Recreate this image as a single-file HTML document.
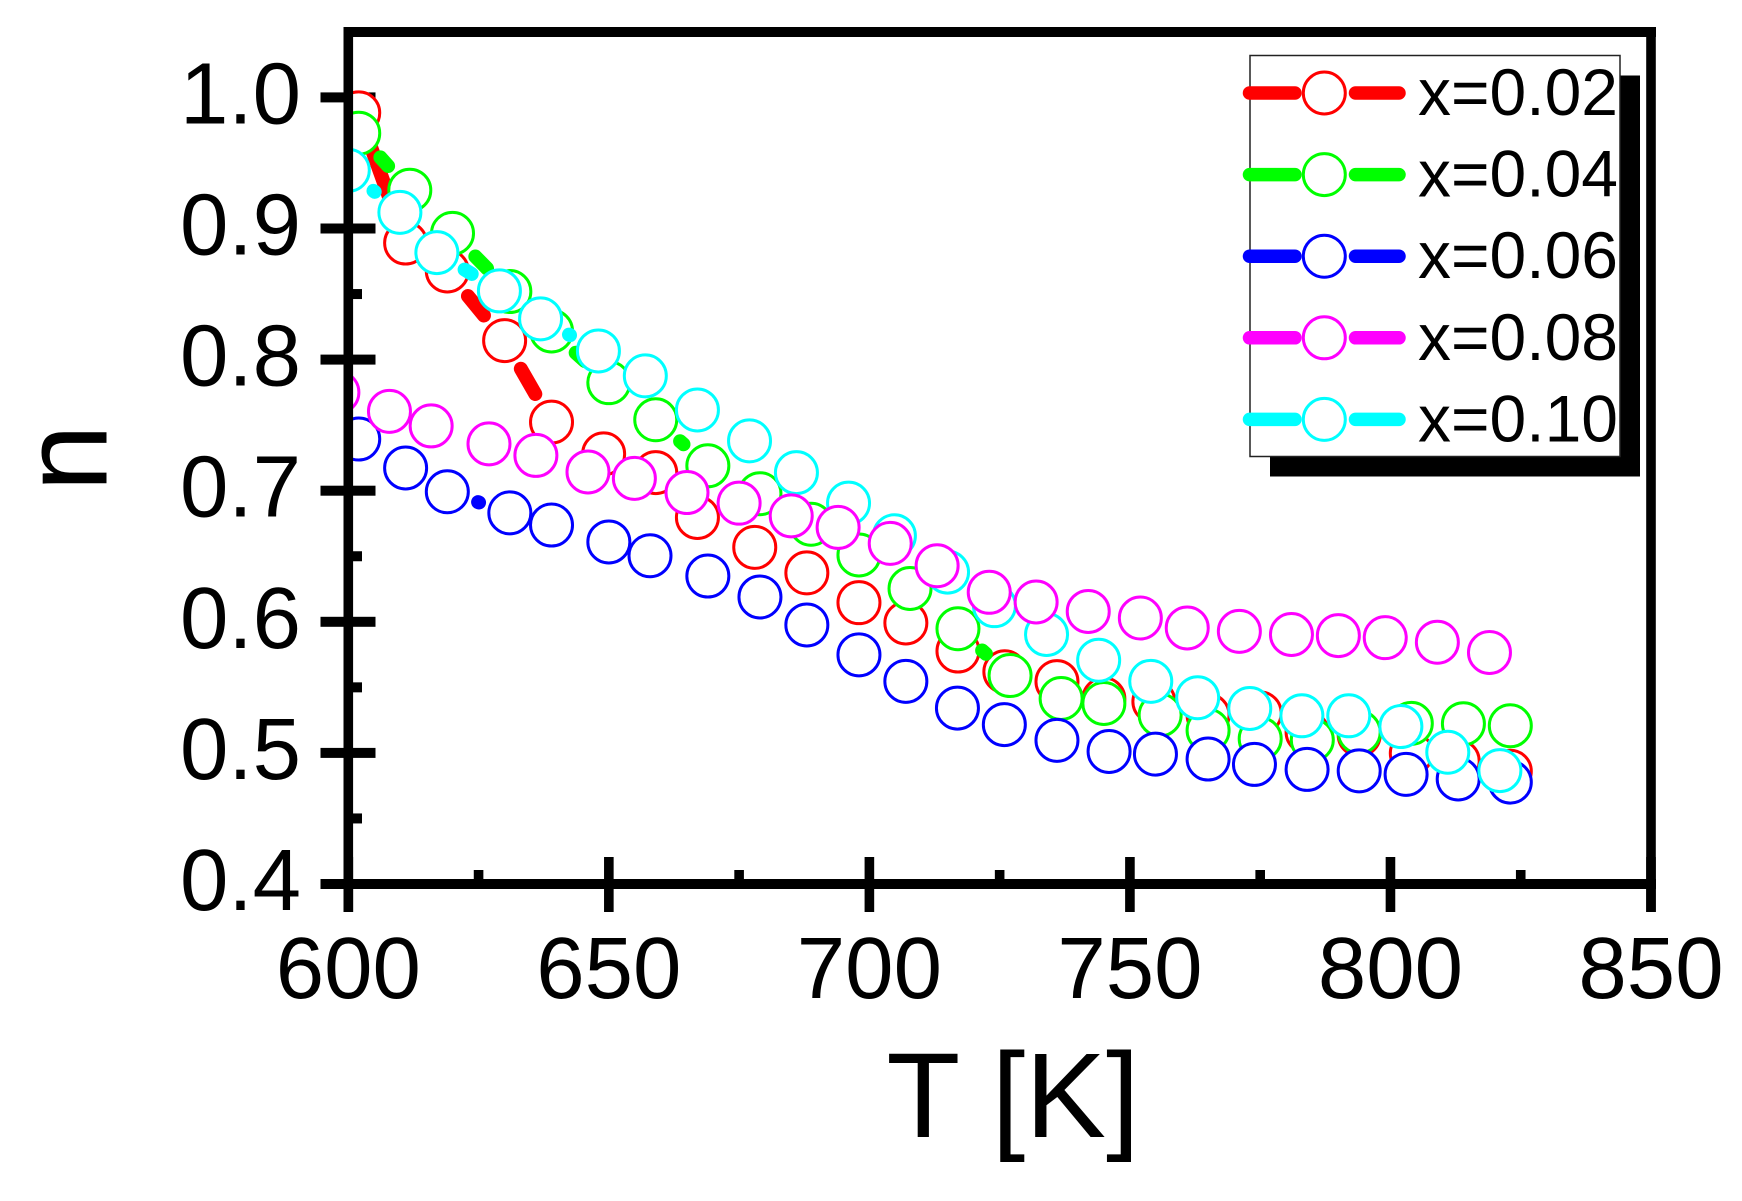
<!DOCTYPE html>
<html lang="en">
<head>
<meta charset="utf-8">
<title>n versus T chart</title>
<style>
  html, body { margin: 0; padding: 0; background: #fff; }
  #chart { display: block; width: 1742px; height: 1201px; }
  text { font-family: "Liberation Sans", Arial, sans-serif; fill: #000; }
</style>
</head>
<body>
<svg id="chart" xmlns="http://www.w3.org/2000/svg" width="1742" height="1201" viewBox="0 0 1742 1201">
  <defs>
    <clipPath id="plot-clip"><rect x="353" y="37" width="1293" height="842"></rect></clipPath>
  </defs>
  <rect x="0" y="0" width="1742" height="1201" fill="#fff"></rect>
  <g id="ticks"></g>
  <g id="tick-labels"></g>
  <g id="series" clip-path="url(#plot-clip)"></g>
  <g fill="#000">
    <rect x="343.5" y="27" width="1312.5" height="10"></rect>
    <rect x="1646.2" y="27" width="9.6" height="885"></rect>
    <rect x="343.5" y="27" width="9.6" height="885"></rect>
    <rect x="320.5" y="879" width="1335.5" height="10"></rect>
  </g>
  <text x="1013" y="1137" font-size="121" text-anchor="middle">T [K]</text>
  <text transform="translate(106.5,458) rotate(-90)" font-size="121" text-anchor="middle">n</text>
  <g id="legend">
    <rect x="1270" y="75.5" width="370" height="401" fill="#000"></rect>
    <rect x="1250" y="55.5" width="370" height="401" fill="#fff" stroke="#222" stroke-width="1.5"></rect>
  </g>
</svg>
<script>
// Axis ranges
const xDomain = [600, 850];
const yDomain = [0.4, 1.0];

// Tick values and labels
const xMajorTicks = [600, 650, 700, 750, 800, 850];
const xMajorLabels = ['600', '650', '700', '750', '800', '850'];
const xMinorTicks = [625, 675, 725, 775, 825];
const yMajorTicks = [0.4, 0.5, 0.6, 0.7, 0.8, 0.9, 1.0];
const yMajorLabels = ['0.4', '0.5', '0.6', '0.7', '0.8', '0.9', '1.0'];
const yMinorTicks = [0.45, 0.55, 0.65, 0.75, 0.85, 0.95];

// Series values
const seriesNames = ['x=0.02', 'x=0.04', 'x=0.06', 'x=0.08', 'x=0.10'];
const seriesColors = ['#ff0000', '#00ff00', '#0000ff', '#ff00ff', '#00ffff'];

const tempA = [602, 611, 619, 630, 639, 649, 659, 667, 678, 688, 698, 707, 717, 726, 736, 745, 754.6, 765, 775, 784, 794, 804, 813, 823];
const nA = [0.9882, 0.8889, 0.8676, 0.8145, 0.7523, 0.7281, 0.7138, 0.6796, 0.6568, 0.6373, 0.6146, 0.5991, 0.5777, 0.5619, 0.5544, 0.5412, 0.5391, 0.5289, 0.5304, 0.5158, 0.5137, 0.4997, 0.4938, 0.486];

const tempB = [602, 611.8, 620, 631, 639, 650, 659, 669, 679, 688.8, 698, 707.8, 717, 727, 736.8, 745, 755.8, 765, 775, 785, 794, 804, 814, 823];
const nB = [0.9727, 0.9292, 0.8963, 0.8519, 0.8218, 0.7824, 0.7541, 0.719, 0.6977, 0.6744, 0.651, 0.6254, 0.5947, 0.559, 0.5415, 0.5377, 0.5289, 0.5172, 0.5108, 0.5099, 0.5158, 0.5225, 0.5222, 0.5207];

const tempC = [602, 611, 619, 631, 639, 650, 657.9, 669, 679, 688, 698, 707, 716.9, 725.9, 736, 746, 754.9, 765, 773.9, 784, 794, 803, 813, 823];
const nC = [0.7394, 0.7173, 0.6992, 0.6831, 0.6738, 0.6609, 0.6504, 0.6349, 0.6189, 0.5976, 0.5748, 0.5546, 0.5342, 0.5216, 0.5096, 0.5011, 0.4991, 0.4953, 0.4912, 0.4874, 0.4863, 0.4836, 0.4801, 0.4777];

const tempD = [598, 607.9, 615.9, 627, 636, 646, 654.9, 665, 675, 685, 694, 704, 713, 723, 732, 742, 752, 761, 771, 781, 790, 799, 809, 819];
const nD = [0.775, 0.7605, 0.7494, 0.7357, 0.7269, 0.7143, 0.7094, 0.6986, 0.6905, 0.6808, 0.672, 0.6598, 0.6428, 0.6225, 0.6151, 0.6079, 0.6029, 0.5953, 0.5927, 0.5903, 0.5895, 0.5879, 0.5844, 0.5766];

const tempE = [600, 609.9, 617, 629, 636.9, 648, 657, 667, 677, 686, 696, 704.8, 715, 724, 734, 744, 754, 763, 773, 783, 792, 802, 811, 821];
const nE = [0.9444, 0.9123, 0.8816, 0.8524, 0.8311, 0.8066, 0.7876, 0.7616, 0.738, 0.7138, 0.6905, 0.6656, 0.6379, 0.6123, 0.5903, 0.5707, 0.5546, 0.5421, 0.5339, 0.5283, 0.5283, 0.5201, 0.5005, 0.4865];

const SVG_NS = 'http://www.w3.org/2000/svg';

function xScale(t) {
  return 348.3 + (t - xDomain[0]) * (1302.7 / (xDomain[1] - xDomain[0]));
}
function yScale(n) {
  return 884 - (n - yDomain[0]) * (786.6 / (yDomain[1] - yDomain[0]));
}
function make(tag, attrs, parent) {
  const el = document.createElementNS(SVG_NS, tag);
  for (const key in attrs) el.setAttribute(key, attrs[key]);
  parent.appendChild(el);
  return el;
}

const ticksLayer = document.getElementById('ticks');
const labelsLayer = document.getElementById('tick-labels');
const seriesLayer = document.getElementById('series');
const legendLayer = document.getElementById('legend');

xMajorTicks.forEach(function (v, i) {
  const tick = make('rect', { x: xScale(v) - 4.8, y: 857, width: 9.6, height: 55, fill: '#000' }, ticksLayer);
  
  
  const label = make('text', { x: xScale(v), y: 998, 'font-size': 87, 'text-anchor': 'middle' }, labelsLayer);
  
  
  label.textContent = xMajorLabels[i];
});
xMinorTicks.forEach(function (v) {
  const tick = make('rect', { x: xScale(v) - 4.8, y: 870, width: 9.6, height: 15, fill: '#000' }, ticksLayer);
  
  
});
yMajorTicks.forEach(function (v, i) {
  const tick = make('rect', { x: 320.5, y: yScale(v) - 5, width: 55, height: 10, fill: '#000' }, ticksLayer);
  
  
  const label = make('text', { x: 301, y: yScale(v) + 26, 'font-size': 87, 'text-anchor': 'end' }, labelsLayer);
  
  
  label.textContent = yMajorLabels[i];
});
yMinorTicks.forEach(function (v) {
  const tick = make('rect', { x: 348, y: yScale(v) - 5, width: 14, height: 10, fill: '#000' }, ticksLayer);
  
  
});

const lineWidth = 14;
const lineGap = 32.5;
const markerRadius = 21;
const markerStroke = 3;

function drawSeries(temps, values, color, key) {
  const group = make('g', {}, seriesLayer);
  
  
  for (let i = 0; i + 1 < temps.length; i++) {
    const x1 = xScale(temps[i]);
    const y1 = yScale(values[i]);
    const x2 = xScale(temps[i + 1]);
    const y2 = yScale(values[i + 1]);
    const len = Math.hypot(x2 - x1, y2 - y1);
    if (len <= 2 * lineGap) continue;
    const ux = (x2 - x1) / len;
    const uy = (y2 - y1) / len;
    const seg = make('line', {
      x1: x1 + ux * lineGap, y1: y1 + uy * lineGap,
      x2: x2 - ux * lineGap, y2: y2 - uy * lineGap,
      stroke: color, 'stroke-width': lineWidth, 'stroke-linecap': 'round'
    }, group);
    
    
  }
  temps.forEach(function (t, i) {
    const dot = make('circle', {
      cx: xScale(t), cy: yScale(values[i]), r: markerRadius,
      fill: '#fff', stroke: color, 'stroke-width': markerStroke
    }, group);
    
    
  });
}

// Paint order follows the overlaps in the figure: red, green, blue, cyan, magenta.
drawSeries(tempA, nA, seriesColors[0], 'x-0-02');
drawSeries(tempB, nB, seriesColors[1], 'x-0-04');
drawSeries(tempC, nC, seriesColors[2], 'x-0-06');
drawSeries(tempE, nE, seriesColors[4], 'x-0-10');
drawSeries(tempD, nD, seriesColors[3], 'x-0-08');

const legendRowGap = 81.6;
seriesNames.forEach(function (name, i) {
  const rowY = 93 + i * legendRowGap;
  const entry = make('g', {}, legendLayer);
  
  
  const left = make('line', { x1: 1249.5, y1: rowY, x2: 1295, y2: rowY, stroke: seriesColors[i], 'stroke-width': 13.5, 'stroke-linecap': 'round' }, entry);
  
  
  const right = make('line', { x1: 1355.5, y1: rowY, x2: 1399, y2: rowY, stroke: seriesColors[i], 'stroke-width': 13.5, 'stroke-linecap': 'round' }, entry);
  
  
  const marker = make('circle', { cx: 1324.3, cy: rowY, r: markerRadius, fill: '#fff', stroke: seriesColors[i], 'stroke-width': markerStroke }, entry);
  
  
  const label = make('text', { x: 1418, y: rowY + 22, 'font-size': 66 }, entry);
  
  
  label.textContent = name;
});
</script>
</body>
</html>
